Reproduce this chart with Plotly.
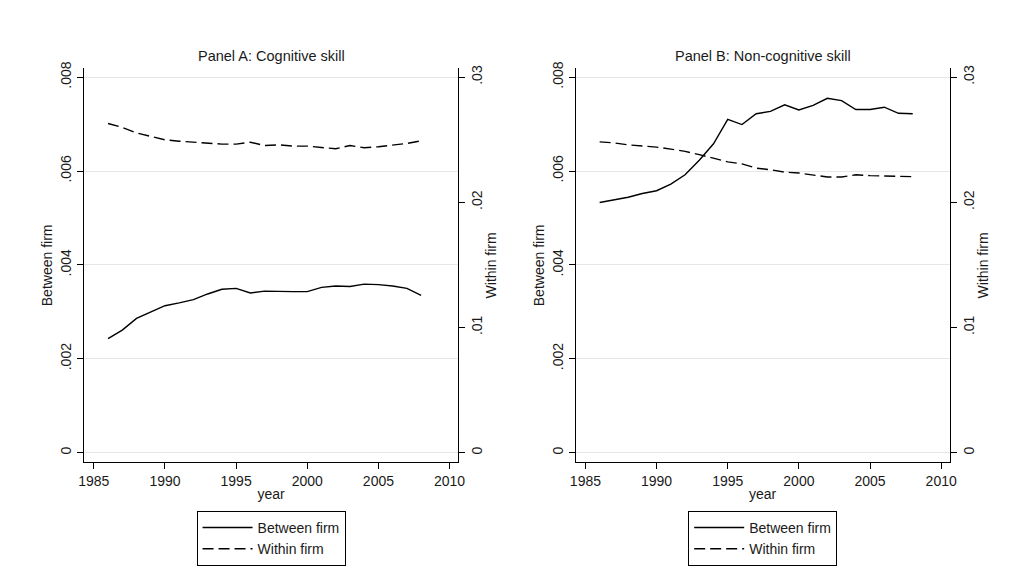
import plotly.graph_objects as go

years = list(range(1986, 2009))

cog_between = [0.00243, 0.00261, 0.00286, 0.00300, 0.00313, 0.00319, 0.00326, 0.00338,
               0.00348, 0.00350, 0.00340, 0.00344, 0.00343, 0.00343, 0.00343, 0.00352,
               0.00355, 0.00354, 0.00359, 0.00358, 0.00355, 0.00350, 0.00335]
cog_within = [0.02630, 0.02598, 0.02554, 0.02528, 0.02499, 0.02488, 0.02480, 0.02470,
              0.02465, 0.02465, 0.02480, 0.02454, 0.02459, 0.02449, 0.02449, 0.02438,
              0.02428, 0.02454, 0.02436, 0.02444, 0.02457, 0.02470, 0.02491]
non_between = [0.00533, 0.00538, 0.00544, 0.00552, 0.00558, 0.00572, 0.00592, 0.00623,
               0.00658, 0.00710, 0.00699, 0.00722, 0.00727, 0.00741, 0.00730, 0.00740,
               0.00755, 0.00750, 0.00731, 0.00731, 0.00736, 0.00723, 0.00722]
non_within = [0.02483, 0.02475, 0.02459, 0.02451, 0.02441, 0.02425, 0.02407, 0.02381,
              0.02349, 0.02323, 0.02307, 0.02273, 0.02260, 0.02241, 0.02234, 0.02218,
              0.02202, 0.02202, 0.02220, 0.02213, 0.02210, 0.02205, 0.02205]

left_ticks = [0, 0.002, 0.004, 0.006, 0.008]
left_labels = ["0", ".002", ".004", ".006", ".008"]
right_ticks = [0, 0.01, 0.02, 0.03]
right_labels = ["0", ".01", ".02", ".03"]
x_ticks = [1985, 1990, 1995, 2000, 2005, 2010]

panel_titles = ["Panel A: Cognitive skill", "Panel B: Non-cognitive skill"]

FONT = "Liberation Sans, Arial, sans-serif"
TXT = "#1a1a1a"
W, H = 1014, 586

xr = [1984.31, 2010.6]
yl = [-0.000211, 0.0081895]
yr = [v * 3.75 for v in yl]

fig = go.Figure()

panels = [
    dict(between=cog_between, within=cog_within, xd=[79 / W, 458 / W], legend="legend"),
    dict(between=non_between, within=non_within, xd=[577 / W, 956 / W], legend="legend2"),
]
ydom = [1 - 461 / H, 1 - 62 / H]

for i, p in enumerate(panels):
    xa = "x" if i == 0 else "x2"
    yla = "y" if i == 0 else "y3"
    yra = "y2" if i == 0 else "y4"
    fig.add_trace(go.Scatter(x=years, y=p["between"], mode="lines", name="Between firm",
                             line=dict(color="black", width=1.4), xaxis=xa, yaxis=yla,
                             legend=p["legend"]))
    fig.add_trace(go.Scatter(x=years, y=p["within"], mode="lines", name="Within firm",
                             line=dict(color="black", width=1.4, dash="11px,5px"), xaxis=xa, yaxis=yra,
                             legend=p["legend"]))

axis_common = dict(showline=True, linecolor="black", linewidth=1, ticks="outside",
                   ticklen=6, tickcolor="black", zeroline=False,
                   tickfont=dict(family=FONT, size=14, color=TXT))

for i, p in enumerate(panels):
    ylname = "yaxis" if i == 0 else "yaxis3"
    yrname = "yaxis2" if i == 0 else "yaxis4"
    xname = "xaxis" if i == 0 else "xaxis2"
    xa = "x" if i == 0 else "x2"
    yla = "y" if i == 0 else "y3"
    fig.layout[xname] = dict(domain=p["xd"], range=xr, anchor=yla, tickvals=x_ticks,
                             showgrid=False,
                             title=dict(text="year", standoff=0,
                                        font=dict(family=FONT, size=14, color=TXT)),
                             **axis_common)
    fig.layout[ylname] = dict(domain=ydom, range=yl, anchor=xa, tickvals=left_ticks,
                              ticktext=left_labels, tickangle=-90, showgrid=True,
                              gridcolor="#e6e6e6", gridwidth=1,
                              title=dict(text="Between firm", standoff=2,
                                         font=dict(family=FONT, size=14, color=TXT)),
                              **axis_common)
    fig.layout[yrname] = dict(domain=ydom, range=yr, anchor=xa, overlaying=yla, side="right",
                              tickvals=right_ticks, ticktext=right_labels, tickangle=-90,
                              showgrid=False,
                              title=dict(text="Within firm", standoff=2,
                                         font=dict(family=FONT, size=14, color=TXT)),
                              **axis_common)
    cx = (p["xd"][0] + p["xd"][1]) / 2
    fig.add_annotation(text=panel_titles[i], x=cx, y=1 - 50 / H, xref="paper", yref="paper",
                       showarrow=False, xanchor="center", yanchor="middle",
                       font=dict(family=FONT, size=14.5, color=TXT))
    leg = dict(x=cx, y=1 - 510 / H, xanchor="center", yanchor="top", orientation="v",
               bordercolor="black", borderwidth=1, bgcolor="white", itemwidth=50,
               font=dict(family=FONT, size=14, color=TXT), tracegroupgap=0)
    fig.layout[p["legend"]] = leg

fig.update_layout(width=W, height=H, margin=dict(l=0, r=0, t=0, b=0),
                  paper_bgcolor="white", plot_bgcolor="white", showlegend=True)

fig.write_html("out.html")
